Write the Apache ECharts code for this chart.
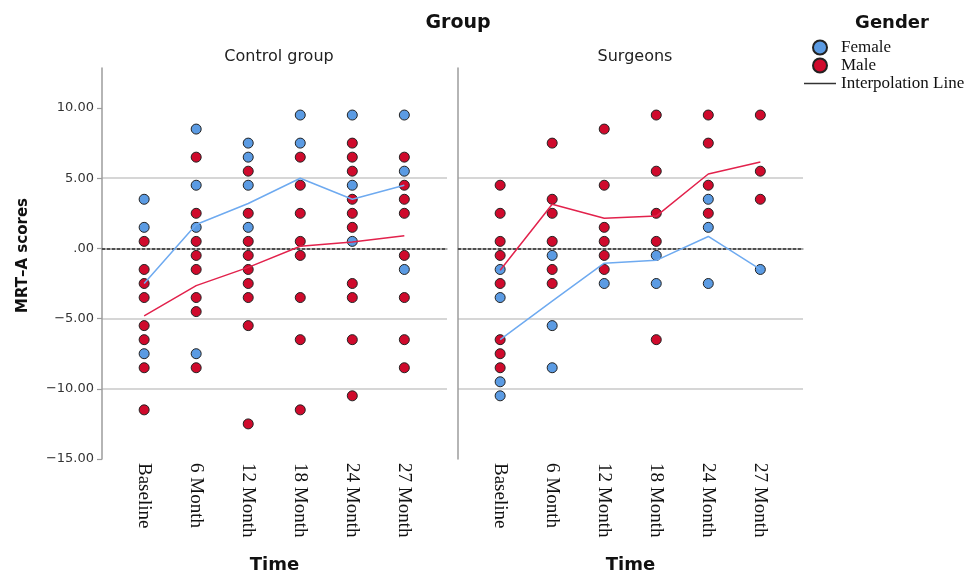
<!DOCTYPE html>
<html>
<head>
<meta charset="utf-8">
<title>MRT-A scores by time, group and gender</title>
<script src="https://cdn.jsdelivr.net/npm/echarts@6/dist/echarts.min.js"></script>
<style>
  html, body { margin: 0; padding: 0; background: #fff; }
  #chart { width: 969px; height: 574px; }
</style>
</head>
<body>
<div id="chart"></div>
<script>
// Time points on the x axis
const timeLabels = ['Baseline', '6 Month', '12 Month', '18 Month', '24 Month', '27 Month'];
const yTicks = [-15, -10, -5, 0, 5, 10];

// Individual MRT-A scores, one list per time point
const controlFemale = [
  [3.5, 1.5, -7.5],
  [8.5, 4.5, 1.5, -7.5],
  [7.5, 6.5, 4.5, 1.5],
  [9.5, 7.5],
  [9.5, 4.5, 0.5],
  [9.5, 5.5, -1.5]
];
const controlMale = [
  [0.5, -1.5, -2.5, -3.5, -5.5, -6.5, -8.5, -11.5],
  [6.5, 2.5, 0.5, -0.5, -1.5, -3.5, -4.5, -8.5],
  [5.5, 2.5, 0.5, -0.5, -1.5, -2.5, -3.5, -5.5, -12.5],
  [6.5, 4.5, 2.5, 0.5, -0.5, -3.5, -6.5, -11.5],
  [7.5, 6.5, 5.5, 3.5, 2.5, 1.5, -2.5, -3.5, -6.5, -10.5],
  [6.5, 4.5, 3.5, 2.5, -0.5, -3.5, -6.5, -8.5]
];
const surgeonFemale = [
  [-1.5, -3.5, -9.5, -10.5],
  [-0.5, -5.5, -8.5],
  [-2.5],
  [-0.5, -2.5],
  [3.5, 1.5, -2.5],
  [-1.5]
];
const surgeonMale = [
  [4.5, 2.5, 0.5, -0.5, -2.5, -6.5, -7.5, -8.5],
  [7.5, 3.5, 2.5, 0.5, -1.5, -2.5],
  [8.5, 4.5, 1.5, 0.5, -0.5, -1.5],
  [9.5, 5.5, 2.5, 0.5, -6.5],
  [9.5, 7.5, 4.5, 2.5],
  [9.5, 5.5, 3.5]
];

// Interpolation lines (group means per time point)
const controlFemaleMean = [-2.5, 1.7, 3.2, 5.0, 3.5, 4.5];
const controlMaleMean = [-4.8, -2.65, -1.35, 0.15, 0.45, 0.9];
const surgeonFemaleMean = [-6.5, -3.75, -1.05, -0.85, 0.85, -1.5];
const surgeonMaleMean = [-1.55, 3.15, 2.15, 2.3, 5.3, 6.15];

const FEMALE = '#5b9be3';
const MALE = '#cf0a2c';
const FEMALE_LINE = '#6eaaf0';
const MALE_LINE = '#e2224c';
const GRID_LINE = '#c8c8c8';
const AXIS_LINE = '#9c9c9c';
const SANS = 'DejaVu Sans';
const SERIF = 'Liberation Serif';

function toPoints(byTime) {
  return byTime.flatMap((vals, i) => vals.map(v => [i, v]));
}
function toLine(means) {
  return means.map((v, i) => [i, v]);
}
function fmtY(v) {
  let s = Math.abs(v).toFixed(2);
  if (s.startsWith('0')) s = s.slice(1);
  return (v < 0 ? '\u2212' : '') + s;
}

const panelGrids = [
  { left: 102, top: 68, width: 345, height: 391, outerBoundsMode: 'none', containLabel: false },
  { left: 458, top: 68, width: 345, height: 391, outerBoundsMode: 'none', containLabel: false }
];

function makeXAxis(gridIndex) {
  return {
    type: 'value',
    gridIndex,
    min: -0.81,
    max: 5.82,
    name: 'Time',
    nameLocation: 'middle',
    nameGap: 97,
    nameTextStyle: { fontFamily: SANS, fontWeight: 'bold', fontSize: 18, color: '#111' },
    axisLine: { show: true, lineStyle: { color: AXIS_LINE, width: 1.5 } },
    axisTick: { show: false },
    splitLine: { show: false },
    axisLabel: {
      customValues: [0, 1, 2, 3, 4, 5],
      formatter: v => timeLabels[Math.round(v)],
      rotate: -90,
      margin: 4,
      fontFamily: SERIF,
      fontSize: 19,
      color: '#111'
    }
  };
}

function makeYAxis(gridIndex, withLabels) {
  return {
    type: 'value',
    gridIndex,
    min: -15,
    max: 12.85,
    interval: 5,
    name: withLabels ? 'MRT\u2013A scores' : '',
    nameLocation: 'middle',
    nameGap: 71,
    nameTextStyle: { fontFamily: SANS, fontWeight: 'bold', fontSize: 15, color: '#111', padding: [0, 0, 0, 16] },
    axisLine: { show: true, onZero: false, lineStyle: { color: AXIS_LINE, width: 1.5 } },
    axisTick: {
      show: withLabels,
      customValues: yTicks,
      length: 5,
      lineStyle: { color: AXIS_LINE, width: 1.2 }
    },
    axisLabel: {
      show: withLabels,
      customValues: yTicks,
      formatter: fmtY,
      margin: 8,
      fontFamily: SANS,
      fontSize: 13,
      color: '#333'
    },
    splitLine: {
      show: true,
      showMinLine: false,
      showMaxLine: false,
      lineStyle: { color: GRID_LINE, width: 1.5 }
    }
  };
}

function scatter(name, data, color, idx, withZeroLine) {
  const s = {
    name,
    type: 'scatter',
    xAxisIndex: idx,
    yAxisIndex: idx,
    data: toPoints(data),
    symbol: 'circle',
    symbolSize: 10,
    itemStyle: { color, borderColor: '#222', borderWidth: 1, opacity: 1 },
    z: 3
  };
  if (withZeroLine) {
    s.markLine = {
      silent: true,
      symbol: 'none',
      label: { show: false },
      lineStyle: { color: '#333', type: [3, 2], width: 1.5 },
      data: [{ yAxis: 0 }],
      z: 2
    };
  }
  return s;
}

function meanLine(data, color, idx) {
  return {
    name: 'Interpolation Line',
    type: 'line',
    xAxisIndex: idx,
    yAxisIndex: idx,
    data: toLine(data),
    symbol: 'none',
    lineStyle: { color, width: 1.5 },
    itemStyle: { color },
    z: 5
  };
}

const option = {
  animation: false,
  backgroundColor: '#fff',
  title: [
    { text: 'Group', left: 453, top: 9, textAlign: 'center',
      textStyle: { fontFamily: SANS, fontWeight: 'bold', fontSize: 19, color: '#111' } },
    { text: 'Control group', left: 274, top: 44, textAlign: 'center',
      textStyle: { fontFamily: SANS, fontWeight: 'normal', fontSize: 16, color: '#222' } },
    { text: 'Surgeons', left: 630, top: 44, textAlign: 'center',
      textStyle: { fontFamily: SANS, fontWeight: 'normal', fontSize: 16, color: '#222' } },
    { text: 'Gender', left: 887, top: 9, textAlign: 'center',
      textStyle: { fontFamily: SANS, fontWeight: 'bold', fontSize: 18, color: '#111' } }
  ],
  legend: {
    orient: 'vertical',
    left: 804,
    top: 39,
    padding: 0,
    itemWidth: 32,
    itemHeight: 14,
    itemGap: 1,
    selectedMode: false,
    textStyle: { fontFamily: SERIF, fontSize: 17, color: '#111' },
    data: [
      { name: 'Female', icon: 'circle' },
      { name: 'Male', icon: 'circle' },
      { name: 'Interpolation Line', icon: 'path://M0,0H32V1.5H0Z',
        itemStyle: { color: '#333', borderWidth: 0 } }
    ]
  },
  grid: panelGrids,
  xAxis: [makeXAxis(0), makeXAxis(1)],
  yAxis: [makeYAxis(0, true), makeYAxis(1, false)],
  series: [
    scatter('Female', controlFemale, FEMALE, 0, true),
    scatter('Male', controlMale, MALE, 0, false),
    scatter('Female', surgeonFemale, FEMALE, 1, true),
    scatter('Male', surgeonMale, MALE, 1, false),
    meanLine(controlFemaleMean, FEMALE_LINE, 0),
    meanLine(controlMaleMean, MALE_LINE, 0),
    meanLine(surgeonFemaleMean, FEMALE_LINE, 1),
    meanLine(surgeonMaleMean, MALE_LINE, 1)
  ]
};

const chart = echarts.init(document.getElementById('chart'), null, { renderer: 'canvas' });
chart.setOption(option);
</script>
</body>
</html>
